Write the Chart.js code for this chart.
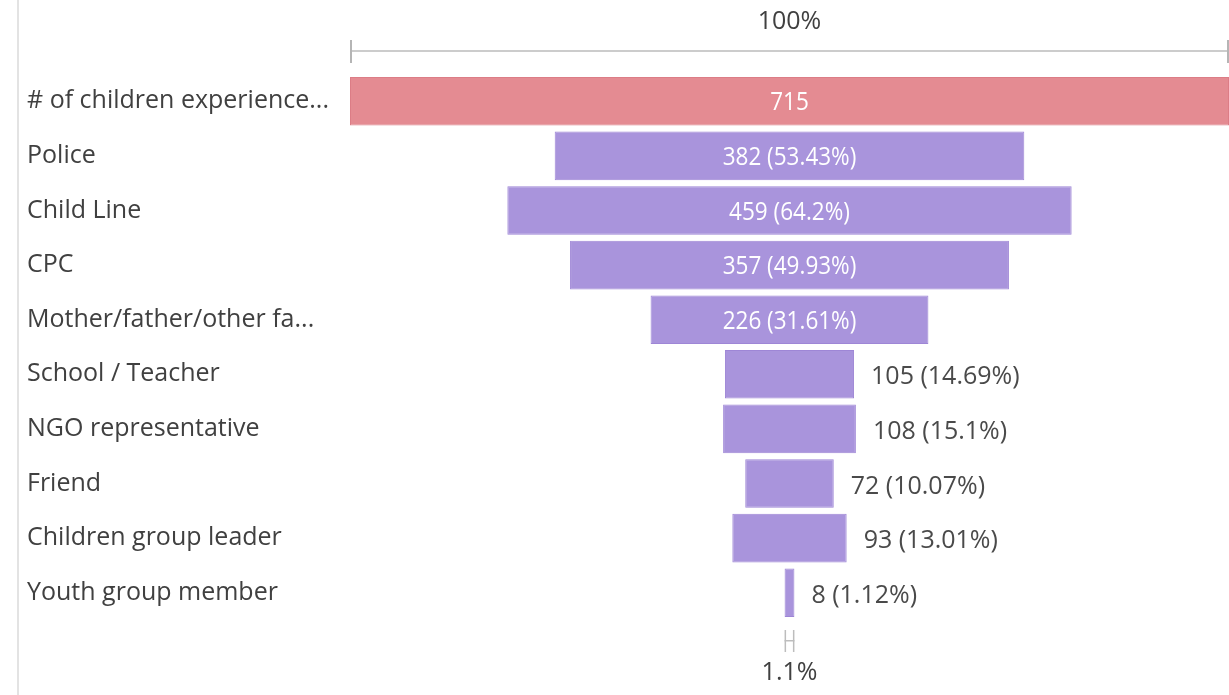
<!DOCTYPE html>
<html>
<head>
<meta charset="utf-8">
<script src="https://cdn.jsdelivr.net/npm/chart.js@4.4.1/dist/chart.umd.min.js"></script>
<style>
  html, body { margin: 0; padding: 0; background: #fff; }
  #wrap { width: 1229px; height: 695px; position: relative; }
</style>
</head>
<body>
<div id="wrap"><canvas id="funnel"></canvas></div>
<script>
// Funnel stages and counts
const stages = [
    "# of children experience...",
    "Police",
    "Child Line",
    "CPC",
    "Mother/father/other fa...",
    "School / Teacher",
    "NGO representative",
    "Friend",
    "Children group leader",
    "Youth group member"
];
const counts = [715, 382, 459, 357, 226, 105, 108, 72, 93, 8];
const topLabel = "100%";
const bottomLabel = "1.1%";

const FONT = "'Open Sans', 'Noto Sans', sans-serif";
const total = counts[0];

function pctText(v) {
    return String(Math.round(v / total * 10000) / 100);
}

// each bar is centred on zero, so the scale does the funnel layout
const floating = counts.map(v => [-v / 2, v / 2]);

const funnelExtras = {
    id: 'funnelExtras',
    beforeDraw(chart) {
        const ctx = chart.ctx;
        ctx.save();
        ctx.fillStyle = '#e3e3e3';
        ctx.fillRect(17, 0, 2, chart.height);
        ctx.restore();
    },
    afterDatasetsDraw(chart) {
        const ctx = chart.ctx;
        const bars = chart.getDatasetMeta(0).data;
        const x = chart.scales.x;
        ctx.save();
        ctx.textBaseline = 'middle';

        bars.forEach((bar, i) => {
            const txt = i === 0 ? String(counts[i]) : counts[i] + ' (' + pctText(counts[i]) + '%)';
            const left = Math.min(bar.base, bar.x);
            const right = Math.max(bar.base, bar.x);
            ctx.font = '500 25px ' + FONT;
            const w = ctx.measureText(txt).width * 0.9;
            if (right - left > w + 40) {
                // inside labels are a bit narrower in the original
                ctx.save();
                ctx.fillStyle = '#ffffff';
                ctx.textAlign = 'center';
                ctx.translate((left + right) / 2, bar.y + 2);
                ctx.scale(0.9, 1);
                ctx.fillText(txt, 0, 0);
                ctx.restore();
            } else {
                ctx.font = '25px ' + FONT;
                ctx.fillStyle = '#4a4a4a';
                ctx.textAlign = 'left';
                ctx.fillText(txt, right + 17, bar.y + 3);
            }
        });

        ctx.font = '25px ' + FONT;
        // top 100% bracket
        const x0 = x.getPixelForValue(-counts[0] / 2);
        const x1 = x.getPixelForValue(counts[0] / 2);
        ctx.fillStyle = '#cccccc';
        ctx.fillRect(x0, 50, x1 - x0, 2);
        ctx.fillStyle = '#b5b5b5';
        ctx.fillRect(x0, 40, 2, 23);
        ctx.fillRect(x1 - 2, 40, 2, 23);
        ctx.fillStyle = '#404040';
        ctx.textAlign = 'center';
        ctx.fillText(topLabel, (x0 + x1) / 2, 22);

        // bottom bracket for the last stage
        const last = counts[counts.length - 1];
        const b0 = x.getPixelForValue(-last / 2);
        const b1 = x.getPixelForValue(last / 2);
        ctx.fillStyle = '#bdbdbd';
        ctx.fillRect(b0, 630, 1.5, 22);
        ctx.fillRect(b1 - 1.5, 630, 1.5, 22);
        ctx.fillRect(b0, 640, b1 - b0, 1.5);
        ctx.fillStyle = '#404040';
        ctx.fillText(bottomLabel, (b0 + b1) / 2, 673);
        ctx.restore();
    }
};

new Chart(document.getElementById('funnel').getContext('2d'), {
    type: 'bar',
    data: {
        labels: stages,
        datasets: [{
            data: floating,
            backgroundColor: counts.map((v, i) => i === 0 ? '#e48b92' : '#a994dc'),
            borderColor: counts.map((v, i) => i === 0 ? '#dc7d86' : '#9e86d6'),
            borderWidth: 1,
            borderSkipped: false,
            categoryPercentage: 1,
            barPercentage: 0.89
        }]
    },
    options: {
        indexAxis: 'y',
        responsive: true,
        maintainAspectRatio: false,
        animation: false,
        layout: { padding: { left: 27, right: 0, top: 74, bottom: 75 } },
        scales: {
            x: {
                display: false,
                min: -total / 2,
                max: total / 2
            },
            y: {
                afterFit(scale) { scale.width = 323; },
                grid: { display: false, drawTicks: false },
                border: { display: false },
                ticks: {
                    crossAlign: 'far',
                    color: '#404040',
                    padding: 0,
                    font: { family: FONT, size: 25 }
                }
            }
        },
        plugins: {
            legend: { display: false },
            tooltip: { enabled: false }
        }
    },
    plugins: [funnelExtras]
});
</script>
</body>
</html>
